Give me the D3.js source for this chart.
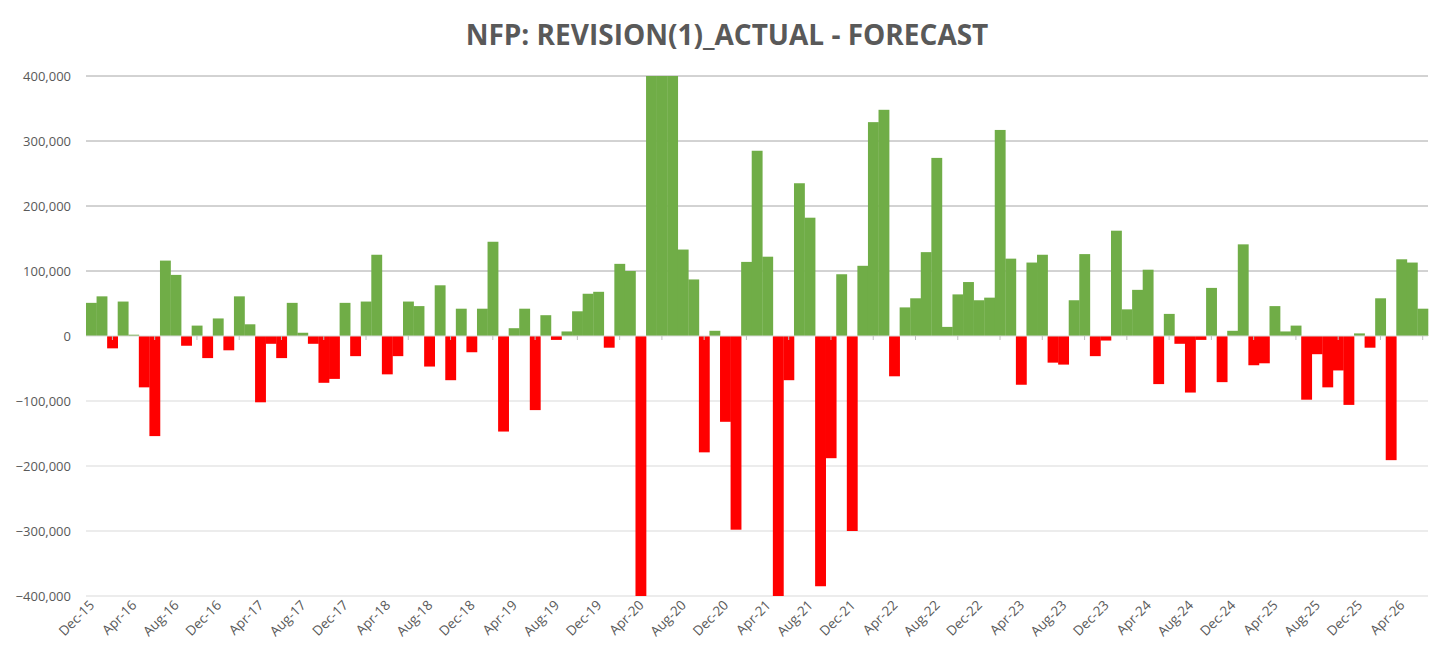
<!DOCTYPE html>
<html>
<head>
<meta charset="utf-8">
<script src="https://cdn.jsdelivr.net/npm/d3@7"></script>
<style>
  body { margin: 0; background: #fff; }
  text { font-family: "Open Sans", "Liberation Sans", sans-serif; }
</style>
</head>
<body>
<svg id="chart"></svg>
<script>
const totalWidth = 1456;
const totalHeight = 666;

// monthly surprise (actual - forecast), Dec-15 .. Jun-26
// bars beyond the axis range are read at the clipped edge (+/-400,000)
const values = [
  51000, 61000, -19000, 53000, 2000, -79000, -154000, 116000, 94000, -15000,
  16000, -34000, 27000, -22000, 61000, 18000, -102000, -12000, -34000, 51000,
  5000, -12000, -72000, -66000, 51000, -31000, 53000, 125000, -59000, -31000,
  53000, 46000, -47000, 78000, -68000, 42000, -25000, 42000, 145000, -147000,
  12000, 42000, -114000, 32000, -6000, 7000, 38000, 65000, 68000, -18000,
  111000, 100000, -400000, 400000, 400000, 400000, 133000, 87000, -179000, 8000,
  -132000, -298000, 114000, 285000, 122000, -400000, -68000, 235000, 182000, -385000,
  -188000, 95000, -300000, 108000, 329000, 348000, -62000, 44000, 58000, 129000,
  274000, 14000, 64000, 83000, 55000, 59000, 317000, 119000, -75000, 113000,
  125000, -41000, -44000, 55000, 126000, -31000, -7000, 162000, 41000, 71000,
  102000, -74000, 34000, -12000, -87000, -6000, 74000, -71000, 8000, 141000,
  -45000, -42000, 46000, 7000, 16000, -98000, -28000, -79000, -53000, -106000,
  4000, -18000, 58000, -191000, 118000, 113000, 42000
];
const monthNames = ["Jan","Feb","Mar","Apr","May","Jun","Jul","Aug","Sep","Oct","Nov","Dec"];
const yTicks = [-400000, -300000, -200000, -100000, 0, 100000, 200000, 300000, 400000];
const title = "NFP: REVISION(1)_ACTUAL - FORECAST";

// category labels: start Dec-15
const labels = values.map((v, i) => {
  const m = (11 + i) % 12;
  const yr = 15 + Math.floor((11 + i) / 12);
  return monthNames[m] + "-" + yr;
});

const svg = d3.select("#chart")
  .attr("width", totalWidth)
  .attr("height", totalHeight);

const plotLeft = 86, plotRight = 1428, plotTop = 76, plotBottom = 596;

const x = d3.scaleBand().domain(d3.range(values.length)).range([plotLeft, plotRight]).padding(0);
const y = d3.scaleLinear().domain([-400000, 400000]).range([plotBottom, plotTop]).clamp(true);

svg.append("text")
  .attr("x", 727).attr("y", 45)
  .attr("text-anchor", "middle")
  .attr("font-size", "28px")
  .attr("font-weight", "bold")
  .attr("fill", "#595959")
  .text(title);

// gridlines
svg.append("g").selectAll("line")
  .data(yTicks.filter(t => t !== 0))
  .enter().append("line")
  .attr("x1", plotLeft).attr("x2", plotRight)
  .attr("y1", d => y(d)).attr("y2", d => y(d))
  .attr("stroke", d => d > 0 ? "#a6a6a6" : "#d9d9d9")
  .attr("stroke-width", 1);

// y labels
svg.append("g").selectAll("text")
  .data(yTicks)
  .enter().append("text")
  .attr("x", 71).attr("y", d => y(d))
  .attr("dy", "0.35em")
  .attr("text-anchor", "end")
  .attr("font-size", "13px")
  .attr("fill", "#595959")
  .text(d => d3.format(",")(d));

// bars
svg.append("g").selectAll("rect")
  .data(values)
  .enter().append("rect")
  .attr("x", (d, i) => x(i))
  .attr("width", x.bandwidth() + 0.3)
  .attr("y", d => y(Math.max(0, d)))
  .attr("height", d => Math.abs(y(d) - y(0)))
  .attr("fill", d => d >= 0 ? "#70ad47" : "#ff0000");

// zero axis
svg.append("line")
  .attr("x1", plotLeft).attr("x2", plotRight)
  .attr("y1", y(0)).attr("y2", y(0))
  .attr("stroke", "#d9d9d9").attr("stroke-width", 1);

const tickIdx = d3.range(0, values.length, 4);
svg.append("g").selectAll("line")
  .data(tickIdx)
  .enter().append("line")
  .attr("x1", i => x(i) + x.bandwidth() * 2.5).attr("x2", i => x(i) + x.bandwidth() * 2.5)
  .attr("y1", y(0)).attr("y2", y(0) + 4)
  .attr("stroke", "#bfbfbf");

// x labels
svg.append("g").selectAll("text")
  .data(tickIdx)
  .enter().append("text")
  .attr("transform", i => `translate(${x(i) + x.bandwidth() / 2 + 4},${plotBottom + 10}) rotate(-45)`)
  .attr("text-anchor", "end")
  .attr("font-size", "13.5px")
  .attr("fill", "#595959")
  .text(i => labels[i]);
</script>
</body>
</html>
